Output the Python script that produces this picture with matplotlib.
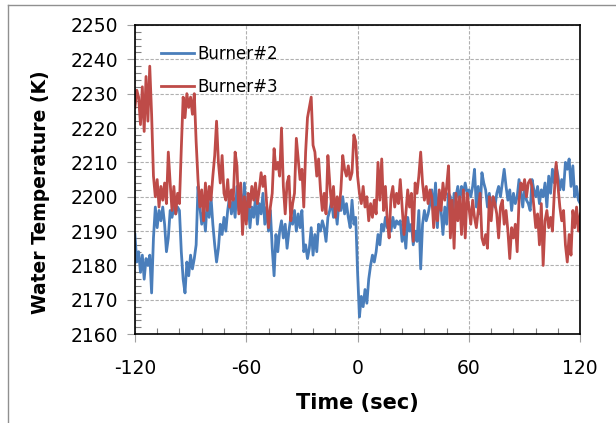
import numpy as np
import matplotlib
matplotlib.use('Agg')
import matplotlib.pyplot as plt
from matplotlib.lines import Line2D
from matplotlib.ticker import MultipleLocator

plt.rcParams['axes.unicode_minus'] = False

# time axis, one reading per second
time_sec = np.arange(-120, 121, 1)

burner2 = [
    2189, 2181, 2184, 2178, 2183, 2176, 2182, 2180, 2183, 2172,
    2188, 2197, 2191, 2196, 2193, 2197, 2192, 2184, 2188, 2196,
    2194, 2197, 2195, 2197, 2196, 2184, 2176, 2172, 2181, 2177,
    2183, 2179, 2182, 2186, 2203, 2197, 2192, 2196, 2190, 2199,
    2194, 2200, 2192, 2186, 2181, 2185, 2192, 2189, 2194, 2190,
    2196, 2200, 2195, 2199, 2194, 2203, 2196, 2201, 2195, 2204,
    2193, 2199, 2191, 2197, 2194, 2200, 2192, 2198, 2195, 2201,
    2192, 2197, 2190, 2196, 2185, 2177, 2189, 2184, 2190, 2193,
    2188, 2192, 2185, 2190, 2194, 2192, 2196, 2190, 2195, 2191,
    2196, 2184, 2186, 2182, 2185, 2191, 2183, 2189, 2184, 2192,
    2190, 2193, 2191, 2187, 2194, 2196, 2199, 2194, 2197, 2192,
    2199, 2196, 2200, 2195, 2198, 2194, 2191, 2199, 2192, 2194,
    2178, 2165, 2171, 2168, 2173, 2169, 2176, 2180, 2183, 2181,
    2184, 2189, 2186, 2192, 2190, 2194, 2191, 2193, 2190, 2194,
    2191, 2193, 2192, 2193, 2187, 2191, 2185, 2194, 2190, 2192,
    2186, 2190, 2187, 2196, 2179, 2192, 2196, 2193, 2195, 2198,
    2202, 2195, 2204, 2191, 2201, 2196, 2189, 2197, 2192, 2201,
    2200, 2192, 2201, 2200, 2203, 2198, 2203, 2201, 2204, 2201,
    2202, 2200, 2203, 2208, 2197, 2203, 2195, 2207, 2204, 2202,
    2197, 2201, 2196, 2200, 2197, 2201, 2203, 2200, 2204, 2208,
    2203, 2199, 2202, 2196, 2201, 2198, 2200, 2205, 2201, 2197,
    2203, 2199, 2198, 2196, 2205, 2202, 2200, 2203, 2198, 2202,
    2200, 2204, 2197, 2206, 2201, 2208, 2204, 2209, 2206, 2202,
    2205, 2202, 2210, 2208, 2211, 2203, 2209, 2200, 2203, 2199,
    2198,
]

burner3 = [
    2226, 2231, 2229, 2221, 2232, 2219, 2235, 2222, 2238, 2224,
    2206, 2200, 2205, 2197, 2203, 2199, 2204, 2198, 2213, 2204,
    2196, 2203, 2195, 2201, 2198, 2214, 2229, 2223, 2230, 2226,
    2229, 2224, 2230, 2216, 2205, 2197, 2202, 2193, 2204, 2196,
    2203, 2199, 2206, 2212, 2222, 2210, 2204, 2212, 2201, 2199,
    2205, 2197, 2202, 2199, 2213, 2209, 2195, 2204, 2189, 2200,
    2192, 2201, 2197, 2203, 2199, 2204, 2198, 2202, 2207, 2203,
    2206, 2198, 2191, 2197, 2201, 2214, 2208, 2210, 2206, 2220,
    2203, 2195, 2204, 2206, 2193, 2198, 2201, 2217, 2211, 2205,
    2208, 2197, 2213, 2223, 2226, 2229, 2215, 2213, 2206, 2211,
    2202, 2196, 2201, 2195, 2212, 2204, 2197, 2203, 2194, 2200,
    2196, 2202, 2212, 2208, 2206, 2209, 2205, 2207, 2218, 2216,
    2206, 2201, 2198, 2203, 2197, 2200, 2193, 2198, 2194, 2199,
    2195, 2210, 2199, 2211, 2196, 2203, 2193, 2188, 2200, 2203,
    2197, 2201, 2198, 2205, 2197, 2189, 2195, 2202, 2197, 2201,
    2187, 2204, 2201, 2206, 2213, 2204, 2199, 2203, 2198, 2202,
    2200, 2191, 2197, 2193, 2202, 2196, 2204, 2199, 2203, 2209,
    2188, 2199, 2185, 2201, 2193, 2200, 2189, 2202, 2188, 2201,
    2197, 2192, 2199, 2194, 2191, 2196, 2201, 2188, 2186, 2189,
    2185, 2200, 2193, 2200, 2198, 2195, 2188, 2197, 2199, 2192,
    2196, 2190, 2182, 2191, 2188, 2192, 2184, 2199, 2204, 2202,
    2205, 2200, 2204, 2205, 2203, 2197, 2191, 2195, 2186, 2198,
    2180, 2193, 2196, 2191, 2194, 2190, 2201, 2210, 2203, 2197,
    2193, 2196, 2186, 2181, 2189, 2183, 2196, 2191, 2197, 2190,
    2195,
]

x_ticks = [-120, -60, 0, 60, 120]

fig = plt.figure(figsize=(6.16, 4.23), dpi=100)
ax = fig.add_axes([0.219, 0.210, 0.723, 0.731])

ax.plot(time_sec, burner2, color='#4a7ebb', lw=2.0, label='Burner#2')
ax.plot(time_sec, burner3, color='#be4b48', lw=2.0, label='Burner#3')

ax.set_xlim(-120, 120)
ax.set_ylim(2160, 2250)
ax.set_xticks(x_ticks)
ax.xaxis.set_minor_locator(MultipleLocator(12))
ax.yaxis.set_major_locator(MultipleLocator(10))
ax.yaxis.set_minor_locator(MultipleLocator(2))

ax.tick_params(which='major', direction='out', length=6, width=0.8,
               color='#a0a0a0', labelsize=13.5)
ax.tick_params(axis='x', which='major', pad=12)
ax.tick_params(axis='y', which='major', pad=6)
ax.tick_params(which='minor', direction='in', length=4, width=0.8, color='#808080')

ax.grid(True, which='major', color='#b0b0b0', lw=0.8, linestyle=(0, (3, 1.5)))
for s in ax.spines.values():
    s.set_linewidth(1.2)
    s.set_color('black')

ax.set_xlabel('Time (sec)', fontsize=15, fontweight='bold', labelpad=11)
ax.set_ylabel('Water Temperature (K)', fontsize=13.5, fontweight='bold')
ax.yaxis.set_label_coords(-0.19, 0.46)

ax.legend(loc='upper left', bbox_to_anchor=(0.025, 0.985), frameon=False,
          fontsize=12, handlelength=2.0, handletextpad=0.2, labelspacing=0.9)

# chart area border (top and left edges visible)
fig.add_artist(Line2D([0.013, 0.013], [0.0, 0.988], color='#909090', lw=1.0))
fig.add_artist(Line2D([0.013, 1.0], [0.988, 0.988], color='#909090', lw=1.0))

fig.savefig('out.png', dpi=100)
